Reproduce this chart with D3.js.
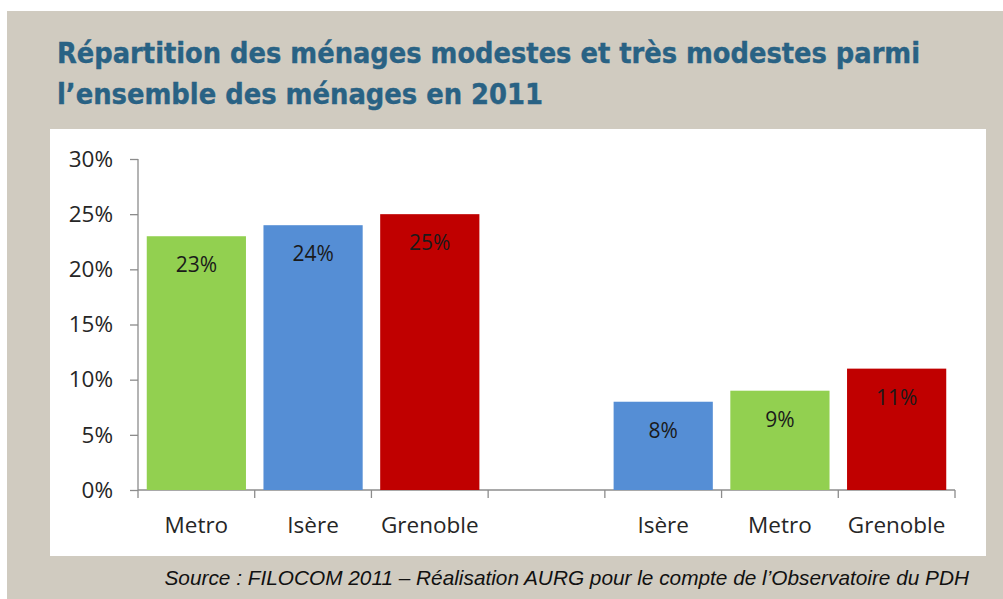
<!DOCTYPE html>
<html>
<head>
<meta charset="utf-8">
<script src="https://cdn.jsdelivr.net/npm/d3@7"></script>
<style>
  html, body { margin: 0; padding: 0; background: #fff; }
  svg { display: block; }
</style>
</head>
<body>
<div id="chart"></div>
<script>
// data
const categories = ["Metro", "Isère", "Grenoble", "", "Isère ", "Metro ", "Grenoble "];
const labels = ["Metro", "Isère", "Grenoble", "", "Isère", "Metro", "Grenoble"];
const values = [23, 24, 25, null, 8, 9, 11];
const barColors = ["#92d050", "#558ed5", "#c00000", null, "#558ed5", "#92d050", "#c00000"];
const yTicks = [0, 5, 10, 15, 20, 25, 30];

const width = 1003, height = 599;

let svg = d3.select("#chart")
	.append("svg")
	.attr("width", width)
	.attr("height", height);

// background frame
svg.append("rect")
	.attr("x", 7).attr("y", 11)
	.attr("width", width - 7).attr("height", height - 11)
	.attr("fill", "#d0cbc0");

svg.append("rect")
	.attr("x", 50).attr("y", 129)
	.attr("width", 936).attr("height", 427)
	.attr("fill", "#ffffff");

// title
let titleLines = ["Répartition des ménages modestes et très modestes parmi", "l’ensemble des ménages en 2011"];
svg.selectAll(".title")
	.data(titleLines)
	.enter()
	.append("text")
	.attr("class", "title")
	.attr("x", 57)
	.attr("y", (d, i) => 63 + i * 41)
	.attr("textLength", (d, i) => i == 0 ? 863 : 486)
	.attr("lengthAdjust", "spacingAndGlyphs")
	.style("font-family", "'DejaVu Sans', Verdana, sans-serif")
	.style("font-weight", "bold")
	.style("font-size", "28px")
	.style("fill", "#296284")
	.style("stroke", "#296284")
	.style("stroke-width", 0.4)
	.text(d => d);

// scales
let xScale = d3.scaleBand()
	.domain(categories)
	.range([138, 955])
	.paddingInner(0.15)
	.paddingOuter(0.075);

let yScale = d3.scaleLinear()
	.domain([0, 30])
	.range([490, 159]);

// y axis
let yAxis = d3.axisLeft(yScale)
	.tickValues(yTicks)
	.tickSize(8)
	.tickPadding(17)
	.tickFormat(d => d + "%");

let gy = svg.append("g")
	.attr("class", "yaxis")
	.attr("transform", "translate(138, 0)")
	.call(yAxis);

gy.selectAll("path, line").attr("stroke", "#8c8c8c").attr("stroke-width", 1.3);
gy.select(".domain").attr("d", `M0,${yScale(30)}V${yScale(0)}`);
gy.selectAll("text")
	.style("font-family", "'Open Sans', 'Liberation Sans', sans-serif")
	.style("font-size", "22.5px")
	.style("fill", "#262626");

// x axis (ticks at band boundaries)
let step = xScale.step();
let x0 = xScale.range()[0];
let boundaries = d3.range(categories.length + 1).map(i => x0 + i * step);

let gx = svg.append("g").attr("class", "xaxis");
gx.append("line")
	.attr("x1", x0).attr("x2", xScale.range()[1])
	.attr("y1", yScale(0)).attr("y2", yScale(0))
	.attr("stroke", "#8c8c8c").attr("stroke-width", 1.3);
gx.selectAll(".xtick")
	.data(boundaries)
	.enter()
	.append("line")
	.attr("x1", d => d).attr("x2", d => d)
	.attr("y1", yScale(0)).attr("y2", yScale(0) + 8)
	.attr("stroke", "#8c8c8c").attr("stroke-width", 1.3);

gx.selectAll(".xlabel")
	.data(categories)
	.enter()
	.append("text")
	.attr("x", d => xScale(d) + xScale.bandwidth() / 2)
	.attr("y", 533)
	.attr("text-anchor", "middle")
	.style("font-family", "'Open Sans', 'Liberation Sans', sans-serif")
	.style("font-size", "22.5px")
	.style("fill", "#262626")
	.text((d, i) => labels[i]);

// bars
let barData = categories.map((c, i) => ({ cat: c, value: values[i], color: barColors[i] }))
	.filter(d => d.value != null);

svg.selectAll(".bar")
	.data(barData)
	.enter()
	.append("rect")
	.attr("class", "bar")
	.attr("x", d => xScale(d.cat))
	.attr("y", d => yScale(d.value))
	.attr("width", xScale.bandwidth())
	.attr("height", d => yScale(0) - yScale(d.value))
	.attr("fill", d => d.color);

svg.selectAll(".barlabel")
	.data(barData)
	.enter()
	.append("text")
	.attr("class", "barlabel")
	.attr("x", d => xScale(d.cat) + xScale.bandwidth() / 2)
	.attr("y", d => yScale(d.value) + 36)
	.attr("text-anchor", "middle")
	.style("font-family", "'Open Sans', 'Liberation Sans', sans-serif")
	.style("font-size", "21px")
	.style("fill", "#1a1a1a")
	.text(d => d.value + "%");

// source
svg.append("text")
	.attr("x", 969)
	.attr("y", 585)
	.attr("text-anchor", "end")
	.style("font-family", "'Liberation Sans', Arial, sans-serif")
	.style("font-style", "italic")
	.style("font-size", "20.8px")
	.style("fill", "#111")
	.text("Source : FILOCOM 2011 – Réalisation AURG pour le compte de l’Observatoire du PDH");
</script>
</body>
</html>
